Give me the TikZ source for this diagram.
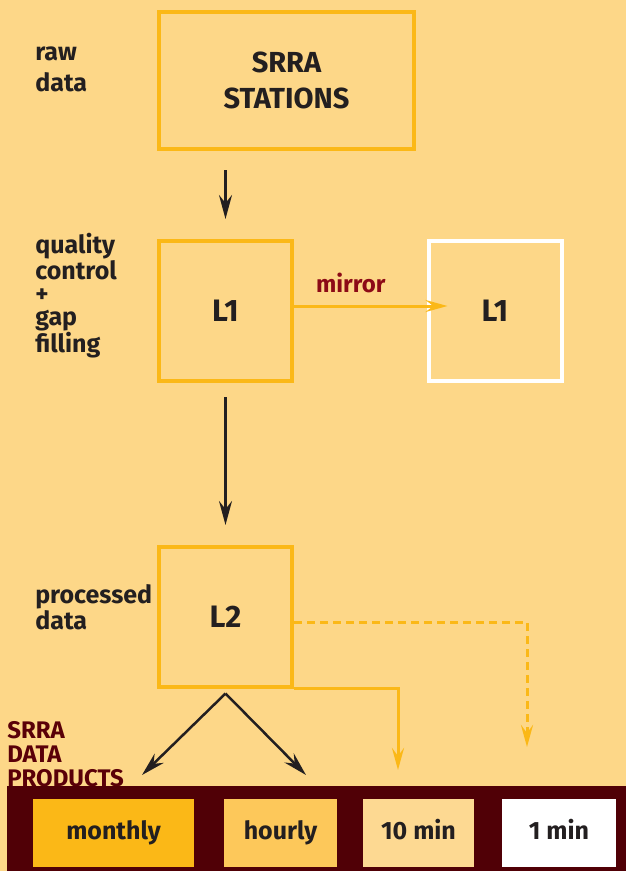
\documentclass[tikz,border=0pt]{standalone}
\usepackage{fontspec}
\setmainfont{Fira Sans}
\usetikzlibrary{positioning,calc,arrows.meta}

\definecolor{bgorange}{HTML}{FDD788}
\definecolor{srrayellow}{HTML}{FBB817}
\definecolor{hourlyfill}{HTML}{FDC85A}
\definecolor{tenminfill}{HTML}{FDD992}
\definecolor{barmaroon}{HTML}{500006}
\definecolor{mirrorred}{HTML}{8C0A16}
\definecolor{productred}{HTML}{5A0008}
\definecolor{inkgray}{HTML}{231F20}

\tikzset{
  level/.style={draw=srrayellow, line width=4pt, minimum width=133pt,
    minimum height=140pt, inner sep=0pt, text=inkgray,
    font=\fontsize{31}{31}\selectfont\bfseries},
  sidenote/.style={anchor=base west, align=left, inner sep=0pt, text=inkgray,
    font=\fontsize{25}{23}\selectfont\bfseries},
  product/.style={minimum height=68pt, inner sep=0pt, text=inkgray,
    text height=18pt, text depth=6pt,
    font=\fontsize{25}{25}\selectfont\bfseries},
  blackarrow/.style={-{Stealth[length=24pt,width=13pt,inset=8pt]},
    line width=2.5pt, draw=inkgray},
  yellowarrow/.style={-{Stealth[length=22pt,width=12pt,inset=8pt]},
    line width=3pt, draw=srrayellow},
}

\begin{document}
\begin{tikzpicture}[x=1pt, y=-1pt, auto, node distance=305.5pt, semithick]

  \fill[bgorange] (0,0) rectangle (626,871);
  \useasboundingbox (0,0) rectangle (626,871);

  % flow boxes
  \node[level, minimum width=255pt, minimum height=137pt, align=center,
    font=\fontsize{29}{36}\selectfont\bfseries] (stations) at (286.5,80.5) {SRRA\\STATIONS};
  \node[level] (l1) at (225.5,311) {L1};
  \node[level, draw=white] (mirror) [right of=l1, node distance=269.5pt] {L1};
  \node[level] (l2) [below of=l1] {L2};

  % side notes (placed at the baseline of their last line)
  \node[sidenote, font=\fontsize{25}{31}\selectfont\bfseries] (rawnote) at (35,91) {raw\\data};
  \node[sidenote] (qcnote) at (35,352) {quality\\control\\+\\gap\\filling};
  \node[sidenote] (procnote) at (35,629) {processed\\data};
  \node[sidenote, text=productred, font=\fontsize{24}{24}\selectfont\bfseries] (prodnote) at (7,786) {SRRA\\DATA\\PRODUCTS};

  % data products
  \fill[barmaroon] (7,786) rectangle (626,871);
  \node[product, fill=srrayellow, minimum width=161pt] (monthly) at (113.5,833) {monthly};
  \node[product, fill=hourlyfill, minimum width=113pt] (hourly) at (280.5,833) {hourly};
  \node[product, fill=tenminfill, minimum width=111pt] (tenmin) at (418.5,833) {10 min};
  \node[product, fill=white, minimum width=114pt] (onemin) at (559,833) {1 min};

  \coordinate (monthlyend) at (142,775);
  \coordinate (hourlyend) at (306,775);
  \coordinate (tenminend) at (398,770);
  \coordinate (oneminend) at (527,747);
  \coordinate (mirrorend) at ([xshift=21pt, yshift=5pt]mirror.west);

  \path (stations.south -| l1) edge[blackarrow, shorten <=19pt, shorten >=20pt] (l1)
        (l1) edge[blackarrow, shorten <=14pt, shorten >=19.5pt] (l2)
        ([yshift=-5pt]l2.south) edge[blackarrow] (monthlyend)
        ([yshift=-5pt]l2.south) edge[blackarrow] (hourlyend)
        ([yshift=5pt]l1.east) edge[yellowarrow] node[pos=0.37, anchor=base, inner sep=0pt,
          yshift=14pt, text=mirrorred, font=\fontsize{24}{24}\selectfont\bfseries] {mirror} (mirrorend)
        ;
  \draw[yellowarrow] (l2.south east) -| (tenminend);
  \draw[yellowarrow, dash pattern=on 8pt off 5pt] ([yshift=-5.5pt]l2.east) -| (oneminend);
\end{tikzpicture}
\end{document}
